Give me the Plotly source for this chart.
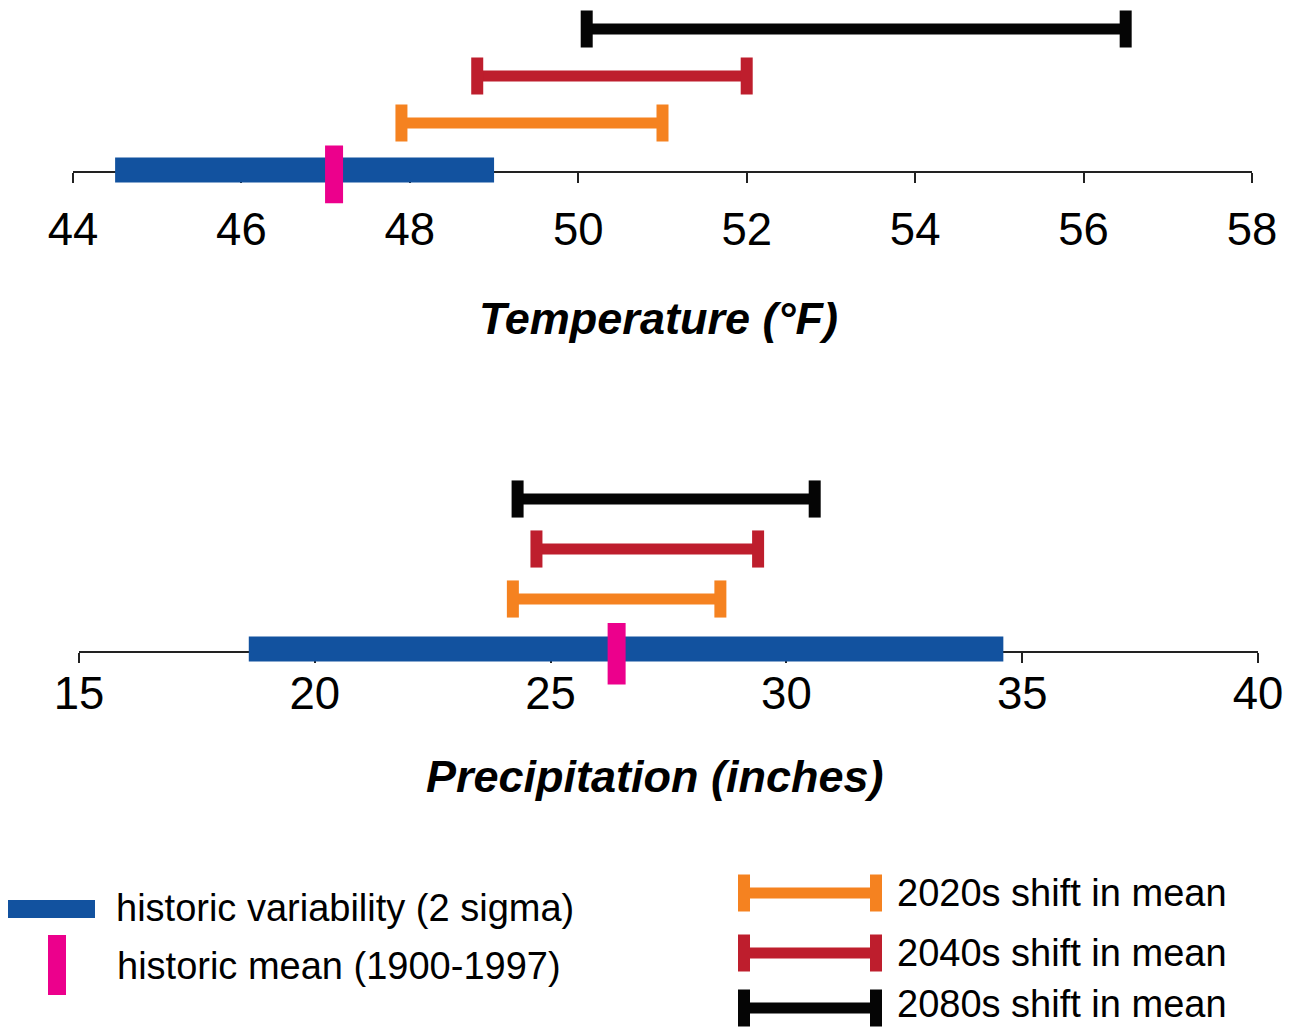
import plotly.graph_objects as go

# ---------------- data ----------------
PERIODS = ["2020s", "2040s", "2080s"]

TEMP_HIST_RANGE = [44.5, 49.0]
TEMP_HIST_MEAN = 47.1
TEMP_LOW = [47.9, 48.8, 50.1]
TEMP_HIGH = [51.0, 52.0, 56.5]
TEMP_TICKS = [44, 46, 48, 50, 52, 54, 56, 58]

PRECIP_HIST_RANGE = [18.6, 34.6]
PRECIP_HIST_MEAN = 26.4
PRECIP_LOW = [24.2, 24.7, 24.3]
PRECIP_HIGH = [28.6, 29.4, 30.6]
PRECIP_TICKS = [15, 20, 25, 30, 35, 40]

TEMP_TITLE = "Temperature (°F)"
PRECIP_TITLE = "Precipitation (inches)"
LEGEND_HIST = ["historic variability (2 sigma)", "historic mean (1900-1997)"]
LEGEND_PERIODS = [p + " shift in mean" for p in PERIODS]

# ---------------- style ----------------
W, H = 1289, 1027
BLUE = "#12529F"
PINK = "#EC008C"
PERIOD_COLORS = ["#F58220", "#BE1E2D", "#050505"]
PERIOD_LEVELS = [1, 2, 3]
MEAN_SPAN = [-0.71, 0.52]   # vertical extent of the mean tick (in level units)
FONT = "Liberation Sans, Arial, sans-serif"
AX_COLOR = "#222222"


def px_x(x):
    return x / W


def px_y(y):
    return 1 - y / H


fig = go.Figure()


def add_panel(xa, ya, hist_range, hist_mean, lows, highs):
    fig.add_trace(go.Scatter(x=hist_range, y=[0, 0], mode="lines",
                             line=dict(color=BLUE, width=25),
                             xaxis=xa, yaxis=ya, hoverinfo="skip"))
    fig.add_trace(go.Scatter(x=[hist_mean, hist_mean], y=MEAN_SPAN, mode="lines",
                             line=dict(color=PINK, width=18),
                             xaxis=xa, yaxis=ya, hoverinfo="skip"))
    for lo, hi, lvl, col in zip(lows, highs, PERIOD_LEVELS, PERIOD_COLORS):
        fig.add_trace(go.Scatter(x=[lo, hi], y=[lvl, lvl], mode="lines+markers",
                                 line=dict(color=col, width=11),
                                 marker=dict(symbol="line-ns", size=26.5,
                                             line=dict(color=col, width=12)),
                                 xaxis=xa, yaxis=ya, hoverinfo="skip"))


add_panel("x", "y", TEMP_HIST_RANGE, TEMP_HIST_MEAN, TEMP_LOW, TEMP_HIGH)
add_panel("x2", "y2", PRECIP_HIST_RANGE, PRECIP_HIST_MEAN, PRECIP_LOW, PRECIP_HIGH)

axis_common = dict(showgrid=False, zeroline=False, showline=True, linecolor=AX_COLOR,
                   linewidth=2, ticks="outside", ticklen=10, tickwidth=2,
                   tickcolor=AX_COLOR, tickfont=dict(family=FONT, size=45.5, color="black"),
                   layer="below traces", fixedrange=True, automargin=False)

top_base, top_step = 170, 47
bot_base, bot_step = 649, 50

fig.update_layout(
    width=W, height=H, margin=dict(l=0, r=0, t=0, b=0, pad=0, autoexpand=False),
    paper_bgcolor="white", plot_bgcolor="white", showlegend=False,
    xaxis=dict(domain=[px_x(73), px_x(1252)], range=[44, 58], tickvals=TEMP_TICKS,
               anchor="free", position=px_y(172), ticklabelstandoff=7, **axis_common),
    yaxis=dict(domain=[px_y(top_base + 0.8 * top_step), px_y(top_base - 3.5 * top_step)],
               range=[-0.8, 3.5], visible=False, fixedrange=True),
    xaxis2=dict(domain=[px_x(79), px_x(1258)], range=[15, 40], tickvals=PRECIP_TICKS,
                anchor="free", position=px_y(652), ticklabelstandoff=-9, **axis_common),
    yaxis2=dict(domain=[px_y(bot_base + 0.8 * bot_step), px_y(bot_base - 3.5 * bot_step)],
                range=[-0.8, 3.5], visible=False, fixedrange=True),
)

title_font = dict(family=FONT, size=45, color="black", weight="bold", style="italic")
fig.add_annotation(text=TEMP_TITLE, xref="paper", yref="paper", x=px_x(658), y=px_y(318),
                   xanchor="center", yanchor="middle", showarrow=False, font=title_font)
fig.add_annotation(text=PRECIP_TITLE, xref="paper", yref="paper", x=px_x(655), y=px_y(776),
                   xanchor="center", yanchor="middle", showarrow=False, font=title_font)

# ---------------- legend (drawn manually) ----------------
leg_font = dict(family=FONT, size=38, color="black")
shapes = []
shapes.append(dict(type="rect", xref="paper", yref="paper", x0=px_x(8), x1=px_x(95),
                   y0=px_y(918), y1=px_y(900), fillcolor=BLUE, line=dict(width=0)))
shapes.append(dict(type="rect", xref="paper", yref="paper", x0=px_x(48), x1=px_x(66),
                   y0=px_y(995), y1=px_y(935), fillcolor=PINK, line=dict(width=0)))
fig.add_annotation(text=LEGEND_HIST[0], xref="paper", yref="paper", x=px_x(114), y=px_y(908),
                   xanchor="left", yanchor="middle", showarrow=False, font=leg_font)
fig.add_annotation(text=LEGEND_HIST[1], xref="paper", yref="paper", x=px_x(115), y=px_y(966),
                   xanchor="left", yanchor="middle", showarrow=False, font=leg_font)

for label, col, yc, ty in zip(LEGEND_PERIODS, PERIOD_COLORS, [893, 953, 1008], [893, 953, 1004]):
    shapes.append(dict(type="line", xref="paper", yref="paper", x0=px_x(744), x1=px_x(876),
                       y0=px_y(yc), y1=px_y(yc), line=dict(color=col, width=11)))
    for cx in (744, 876):
        shapes.append(dict(type="line", xref="paper", yref="paper", x0=px_x(cx), x1=px_x(cx),
                           y0=px_y(yc - 18.5), y1=px_y(yc + 18.5), line=dict(color=col, width=12)))
    fig.add_annotation(text=label, xref="paper", yref="paper", x=px_x(895), y=px_y(ty),
                       xanchor="left", yanchor="middle", showarrow=False, font=leg_font)

fig.update_layout(shapes=shapes)

fig.write_html("out.html", config={"displayModeBar": False},
               post_script="document.body.style.margin='0';document.body.style.overflow='hidden';")
